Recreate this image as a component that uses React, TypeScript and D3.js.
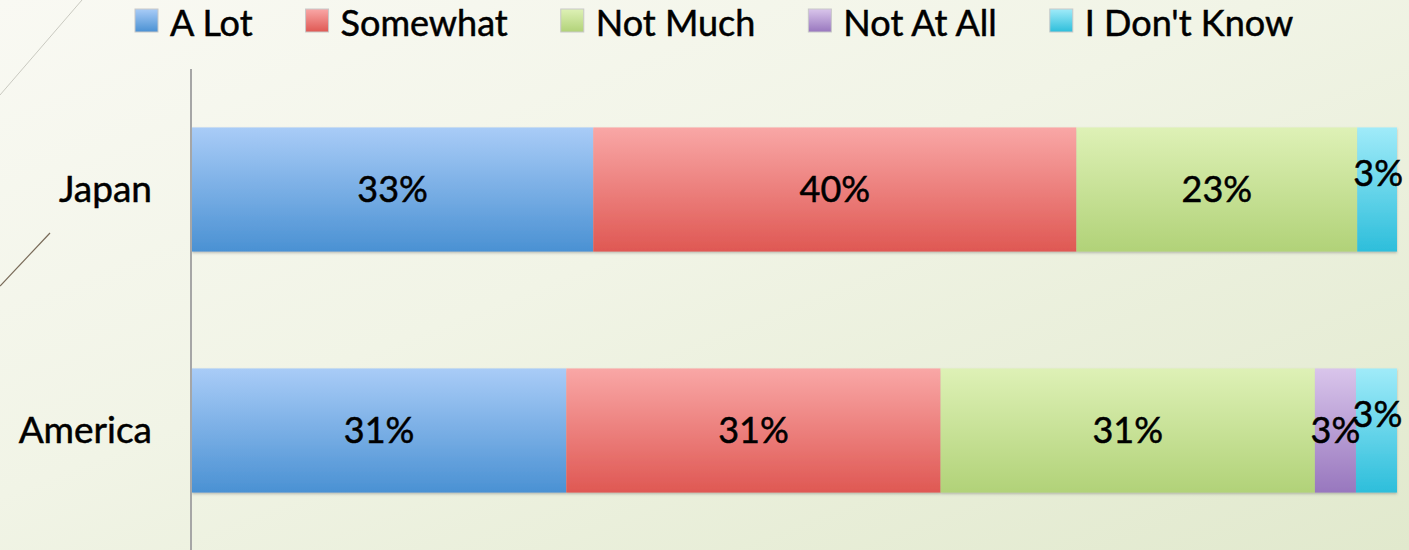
import React, { useRef, useEffect } from 'react';
import * as d3 from 'd3';

const categories = ['Japan', 'America'];
const seriesNames = ['A Lot', 'Somewhat', 'Not Much', 'Not At All', "I Don't Know"];
const japanValues = [33.3, 40.1, 23.3, 0, 3.3];
const americaValues = [31.0, 31.0, 31.0, 3.4, 3.4];
const seriesColors = [
  ['#a9ccf7', '#4a91d3'],
  ['#f9a7a6', '#df5853'],
  ['#def1b6', '#b1d278'],
  ['#d9c5eb', '#9877be'],
  ['#a0ebf9', '#2dbedb'],
];

const W = 1409;
const H = 550;
const FONT = 'Lato, "Noto Sans", sans-serif';

const App = () => {
  const svgRef = useRef<SVGSVGElement>(null);

  useEffect(() => {
    const svg = d3.select(svgRef.current).attr('width', W).attr('height', H);
    svg.selectAll('*').remove();

    const defs = svg.append('defs');
    const bg = defs.append('linearGradient').attr('id', 'bg')
      .attr('x1', 0).attr('y1', 0).attr('x2', 1).attr('y2', 1);
    bg.append('stop').attr('offset', '0%').attr('stop-color', '#f9f9f3');
    bg.append('stop').attr('offset', '45%').attr('stop-color', '#f1f4e6');
    bg.append('stop').attr('offset', '100%').attr('stop-color', '#e1e9cd');

    seriesColors.forEach((c, i) => {
      const g = defs.append('linearGradient').attr('id', `grad${i}`)
        .attr('x1', 0).attr('y1', 0).attr('x2', 0).attr('y2', 1);
      g.append('stop').attr('offset', '0%').attr('stop-color', c[0]);
      g.append('stop').attr('offset', '100%').attr('stop-color', c[1]);
    });

    const shadow = defs.append('filter').attr('id', 'shadow')
      .attr('x', '-5%').attr('y', '-10%').attr('width', '110%').attr('height', '125%');
    shadow.append('feDropShadow').attr('dx', 0).attr('dy', 1.5)
      .attr('stdDeviation', 1).attr('flood-color', '#555').attr('flood-opacity', 0.35);

    svg.append('rect').attr('width', W).attr('height', H).attr('fill', 'url(#bg)');

    // decorative slide lines
    svg.append('line').attr('x1', 82).attr('y1', 0).attr('x2', 0).attr('y2', 95)
      .attr('stroke', '#c9c9c0').attr('stroke-width', 1);
    svg.append('line').attr('x1', 50).attr('y1', 233).attr('x2', 0).attr('y2', 286)
      .attr('stroke', '#786a58').attr('stroke-width', 1.2);

    const rows = categories.map((c, i) => {
      const vals = i === 0 ? japanValues : americaValues;
      const row: any = { category: c };
      seriesNames.forEach((s, j) => { row[s] = vals[j]; });
      return row;
    });

    const stack = d3.stack().keys(seriesNames).offset(d3.stackOffsetExpand);
    const layers = stack(rows);

    const x = d3.scaleLinear().domain([0, 1]).range([192, 1397]);
    const y = d3.scaleBand().domain(categories).range([69, 551])
      .paddingInner(0.485).paddingOuter(0.2425);

    const barG = svg.append('g').attr('filter', 'url(#shadow)');
    layers.forEach((layer, i) => {
      barG.selectAll(`.bar${i}`)
        .data(layer.filter(d => d[1] - d[0] > 0))
        .enter()
        .append('rect')
        .attr('x', d => x(d[0]))
        .attr('y', d => y(d.data.category))
        .attr('width', d => x(d[1]) - x(d[0]))
        .attr('height', y.bandwidth())
        .attr('fill', `url(#grad${i})`);
    });

    // axis line
    svg.append('line').attr('x1', 191).attr('x2', 191).attr('y1', 69).attr('y2', 551)
      .attr('stroke', '#a6a6a6').attr('stroke-width', 2);

    const styleText = (sel, size) => sel
      .style('font-family', FONT)
      .style('font-size', size)
      .attr('fill', '#000')
      .attr('stroke', '#000')
      .attr('stroke-width', 0.5);

    // category labels
    svg.selectAll('.cat')
      .data(categories)
      .enter()
      .append('text')
      .attr('x', 152)
      .attr('y', d => y(d) + y.bandwidth() / 2)
      .attr('dy', '0.35em')
      .style('text-anchor', 'end')
      .call(styleText, '37px')
      .text(d => d);

    // data labels
    layers.forEach((layer, i) => {
      svg.selectAll(`.lab${i}`)
        .data(layer.filter(d => d[1] - d[0] > 0))
        .enter()
        .append('text')
        .attr('x', d => (x(d[0]) + x(d[1])) / 2 + (i === 4 ? 1 : 0))
        .attr('y', d => y(d.data.category) + y.bandwidth() / 2 + (i === 4 ? -16 : 0))
        .attr('dy', '0.35em')
        .style('text-anchor', 'middle')
        .call(styleText, '36px')
        .text(d => `${Math.round(d.data[layer.key])}%`);
    });

    // legend
    const legend = svg.append('g');
    let lx = 135;
    seriesNames.forEach((s, i) => {
      legend.append('rect').attr('x', lx).attr('y', 9).attr('width', 23).attr('height', 23)
        .attr('fill', `url(#grad${i})`).attr('stroke', '#c8c8c8').attr('stroke-width', 1);
      const t = legend.append('text')
        .attr('x', lx + 35)
        .attr('y', 36)
        .call(styleText, '36px')
        .text(s);
      const w = (t.node() as SVGTextElement).getComputedTextLength();
      lx += 35 + w + 53;
    });
  }, []);

  return (
    <div>
      <svg ref={svgRef} style={{ position: 'absolute', left: 0, top: 0, display: 'block' }}></svg>
    </div>
  );
};

export default App;
